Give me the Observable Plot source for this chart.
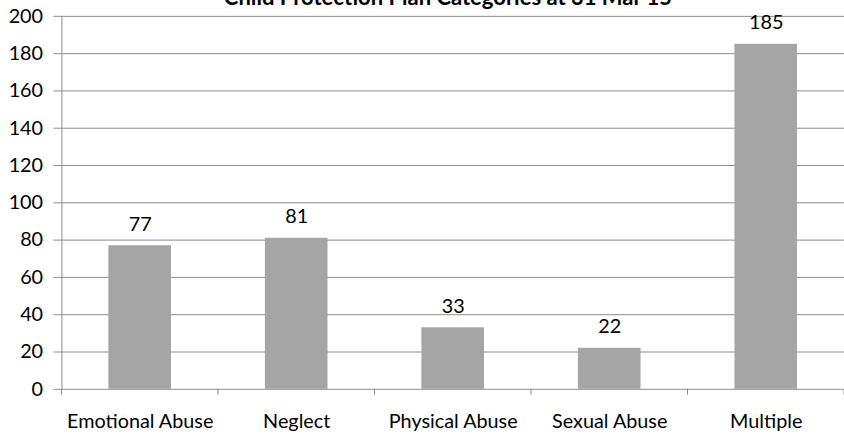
<!DOCTYPE html>
<html>
<head>
<meta charset="utf-8">
<script src="https://cdn.jsdelivr.net/npm/d3@7"></script>
<script src="https://cdn.jsdelivr.net/npm/@observablehq/plot@0.6"></script>
<style>
  html, body { margin: 0; padding: 0; background: #fff; overflow: hidden; }
  #wrap { position: relative; width: 844px; height: 434px; overflow: hidden; }
  #title {
    position: absolute; left: 0; width: 896px; top: -14px;
    text-align: center; font: bold 22px Lato, sans-serif; line-height: 22px; color: #000;
  }
  #chart { position: absolute; left: 0; top: 0; }
</style>
</head>
<body>
<div id="wrap">
  <div id="chart"></div>
  <div id="title">Child Protection Plan Categories at 31 Mar 15</div>
</div>
<script>
// Children on a Child Protection Plan, by category of abuse
const categories = ["Emotional Abuse", "Neglect", "Physical Abuse", "Sexual Abuse", "Multiple"];
const counts = [77, 81, 33, 22, 185];
const yTicks = [0, 20, 40, 60, 80, 100, 120, 140, 160, 180, 200];

const data = categories.map((category, i) => ({category, count: counts[i]}));

const gridColor = "#8c8c8c";

const chart = Plot.plot({
  width: 852,
  height: 434,
  marginLeft: 62,
  marginRight: 0,
  marginTop: 16,
  marginBottom: 41.5,
  style: {fontFamily: "Lato, sans-serif", fontSize: "20px", color: "#000", background: "#fff", overflow: "visible"},
  x: {domain: categories, paddingInner: 0.6, paddingOuter: 0.3, round: false, label: null},
  y: {domain: [0, 200], ticks: yTicks, label: null},
  marks: [
    Plot.gridY(yTicks, {stroke: gridColor, strokeOpacity: 1}),
    Plot.axisY(yTicks, {tickSize: 8, tickPadding: 11, stroke: gridColor, label: null, fontSize: 20}),
    Plot.frame({anchor: "left", stroke: gridColor}),
    Plot.barY(data, {x: "category", y: "count", fill: "#a5a5a5"}),
    Plot.text(data, {x: "category", y: "count", text: d => String(d.count), lineAnchor: "bottom", dy: -15, fontSize: 20}),
    Plot.axisX({tickSize: 0, tickPadding: 25, label: null, fontSize: 20})
  ]
});

// category boundary ticks below the baseline
const sx = chart.scale("x");
const sy = chart.scale("y");
const base = sy.apply(0);
const svg = d3.select(chart);
for (let i = 0; i <= categories.length; i++) {
  const xp = sx.range[0] + i * sx.step;
  svg.append("line")
    .attr("x1", xp).attr("x2", xp)
    .attr("y1", base).attr("y2", base + 6)
    .attr("stroke", gridColor);
}

document.getElementById("chart").appendChild(chart);
</script>
</body>
</html>
